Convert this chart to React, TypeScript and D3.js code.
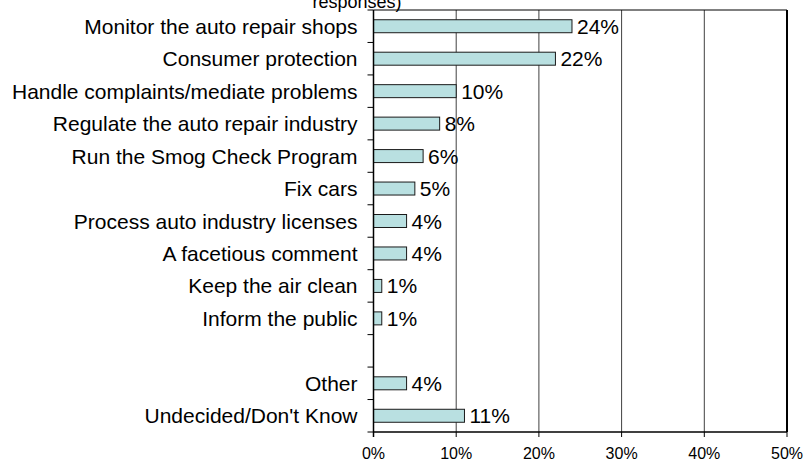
import React from 'react';
import { scaleBand, scaleLinear } from 'd3';

const categories = [
  'Monitor the auto repair shops',
  'Consumer protection',
  'Handle complaints/mediate problems',
  'Regulate the auto repair industry',
  'Run the Smog Check Program',
  'Fix cars',
  'Process auto industry licenses',
  'A facetious comment',
  'Keep the air clean',
  'Inform the public',
  '',
  'Other',
  "Undecided/Don't Know",
];
const values = [24, 22, 10, 8, 6, 5, 4, 4, 1, 1, null, 4, 11];
const xTicks = [0, 10, 20, 30, 40, 50];

const W = 804;
const H = 466;
const left = 373.5;
const right = 787;
const top = 10;
const bottom = 432;
const font = 'Arial, "Liberation Sans", sans-serif';

const App = () => {
  const slots = categories.map((_, i) => String(i));
  const y = scaleBand().domain(slots).range([top, bottom]).paddingInner(0.6).paddingOuter(0.3);
  const yOuter = scaleBand().domain(slots).range([top, bottom]);
  const x = scaleLinear().domain([0, 50]).range([left, right]);

  return (
    <svg
      width={W}
      height={H}
      style={{ position: 'absolute', left: 0, top: 0, background: '#fff' }}
      fontFamily={font}
    >
      <text x={357} y={8} fontSize={18} textAnchor="middle">responses)</text>

      {/* gridlines */}
      {xTicks.slice(1, -1).map((t) => (
        <line key={t} x1={x(t)} x2={x(t)} y1={top} y2={bottom} stroke="#404040" strokeWidth={1} />
      ))}
      <line x1={left} x2={right} y1={top} y2={top} stroke="#000" strokeWidth={1} />
      <line x1={right} x2={right} y1={top} y2={bottom} stroke="#000" strokeWidth={2} />

      {/* bars */}
      {values.map((v, i) =>
        v == null ? null : (
          <g key={i}>
            <rect
              x={x(0)}
              y={y(String(i))}
              width={x(v) - x(0)}
              height={y.bandwidth()}
              fill="#b9e0e1"
              stroke="#1a1a1a"
              strokeWidth={1}
            />
            <text
              x={x(v) + 5}
              y={(y(String(i)) as number) + y.bandwidth() / 2 + 7.5}
              fontSize={21}
            >
              {v}%
            </text>
          </g>
        ),
      )}

      {/* y axis */}
      <line x1={left} x2={left} y1={top} y2={bottom + 5} stroke="#000" strokeWidth={1.5} />
      {slots.map((s) => (
        <line
          key={s}
          x1={left - 6}
          x2={left}
          y1={yOuter(s) as number}
          y2={yOuter(s) as number}
          stroke="#000"
          strokeWidth={1}
        />
      ))}
      <line x1={left - 6} x2={left} y1={bottom} y2={bottom} stroke="#000" />
      {categories.map((c, i) => (
        <text
          key={i}
          x={left - 16}
          y={(yOuter(String(i)) as number) + yOuter.bandwidth() / 2 + 7.5}
          fontSize={21}
          textAnchor="end"
        >
          {c}
        </text>
      ))}

      {/* x axis */}
      <line x1={left} x2={right} y1={bottom} y2={bottom} stroke="#000" strokeWidth={1.5} />
      {xTicks.map((t) => (
        <g key={t}>
          <line x1={x(t)} x2={x(t)} y1={bottom} y2={bottom + 5} stroke="#000" />
          <text x={x(t)} y={bottom + 27} fontSize={16} textAnchor="middle">
            {t}%
          </text>
        </g>
      ))}
    </svg>
  );
};

export default App;
